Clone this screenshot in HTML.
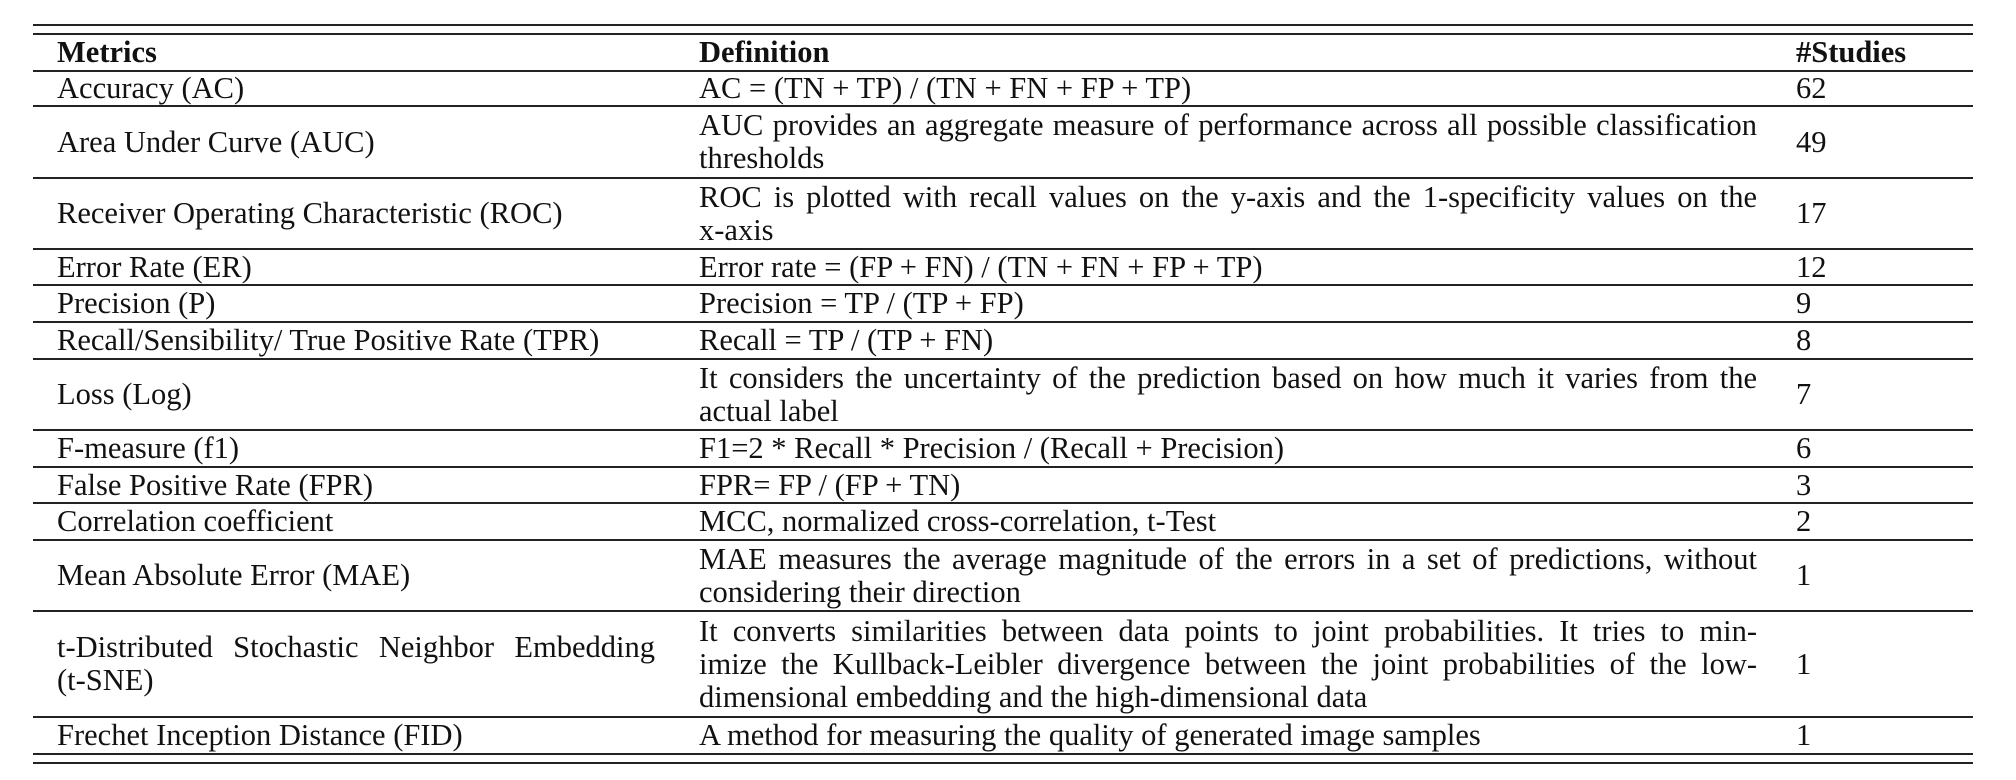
<!DOCTYPE html>
<html><head><meta charset="utf-8">
<style>
html,body{margin:0;padding:0;background:#fff;}
body{width:2016px;height:780px;position:relative;overflow:hidden;font-family:"Liberation Serif","Times New Roman",serif;font-size:30.5px;color:#111;}
.rule{position:absolute;left:33px;width:1940px;height:2px;background:#222;}
.row{position:absolute;left:0;width:2016px;}
.cell{position:absolute;top:0;bottom:0;display:flex;flex-direction:column;justify-content:center;line-height:33px;}
.cell div{white-space:nowrap;}
.c1{left:57px;width:598px;}
.c2{left:699px;width:1058px;}
.c3{left:1796px;width:170px;}
.cell div.j{text-align:justify;text-align-last:justify;white-space:normal;}
.hd{font-weight:bold;}
</style></head><body>
<div class="rule" style="top:24px"></div>
<div class="rule" style="top:33px"></div>
<div id="rows"></div>
<div class="rule" style="top:753px"></div>
<div class="rule" style="top:762px"></div>
<script>
const bounds=[34,71,106,178,249,285,322,359,430,467,503,540,611,717,754];
const metrics=[["Metrics"],["Accuracy (AC)"],["Area Under Curve (AUC)"],["Receiver Operating Characteristic (ROC)"],["Error Rate (ER)"],["Precision (P)"],["Recall/Sensibility/ True Positive Rate (TPR)"],["Loss (Log)"],["F-measure (f1)"],["False Positive Rate (FPR)"],["Correlation coefficient"],["Mean Absolute Error (MAE)"],["t-Distributed Stochastic Neighbor Embedding","(t-SNE)"],["Frechet Inception Distance (FID)"]];
const definitions=[["Definition"],["AC = (TN + TP) / (TN + FN + FP + TP)"],["AUC provides an aggregate measure of performance across all possible classification","thresholds"],["ROC is plotted with recall values on the y-axis and the 1-specificity values on the","x-axis"],["Error rate = (FP + FN) / (TN + FN + FP + TP)"],["Precision = TP / (TP + FP)"],["Recall = TP / (TP + FN)"],["It considers the uncertainty of the prediction based on how much it varies from the","actual label"],["F1=2 * Recall * Precision / (Recall + Precision)"],["FPR= FP / (FP + TN)"],["MCC, normalized cross-correlation, t-Test"],["MAE measures the average magnitude of the errors in a set of predictions, without","considering their direction"],["It converts similarities between data points to joint probabilities. It tries to min-","imize the Kullback-Leibler divergence between the joint probabilities of the low-","dimensional embedding and the high-dimensional data"],["A method for measuring the quality of generated image samples"]];
const studies=["#Studies","62","49","17","12","9","8","7","6","3","2","1","1","1"];
const host=document.getElementById('rows');
function fill(cell,lines){
  lines.forEach((t,k)=>{
    const d=document.createElement('div');
    
    
    d.textContent=t;
    if(k<lines.length-1) d.className='j';
    cell.appendChild(d);
  });
}
for(let i=0;i<metrics.length;i++){
  const r=document.createElement('div');
  r.className='row'+(i===0?' hd':'');
  
  
  r.style.top=bounds[i]+'px';
  r.style.height=(bounds[i+1]-bounds[i])+'px';
  const a=document.createElement('div');a.className='cell c1';
  
  
  fill(a,metrics[i]);
  const b=document.createElement('div');b.className='cell c2';
  
  
  fill(b,definitions[i]);
  const c=document.createElement('div');c.className='cell c3';
  
  
  c.textContent=studies[i];
  r.appendChild(a);r.appendChild(b);r.appendChild(c);
  host.appendChild(r);
  if(i>0){
    const l=document.createElement('div');l.className='rule';
    
    
    l.style.top=(bounds[i]-1)+'px';
    host.appendChild(l);
  }
}
</script>
</body></html>
